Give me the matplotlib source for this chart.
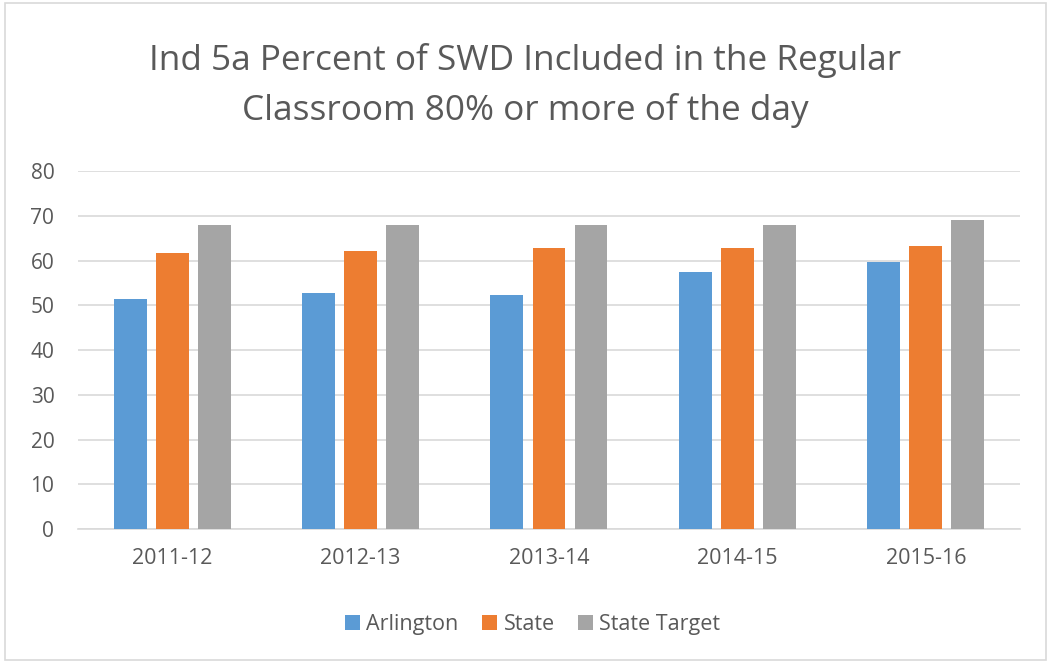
import matplotlib
matplotlib.use("Agg")
import matplotlib.pyplot as plt
import numpy as np
from matplotlib.patches import Rectangle

categories = ["2011-12", "2012-13", "2013-14", "2014-15", "2015-16"]
arlington = [51.3, 52.8, 52.4, 57.5, 59.7]
state = [61.6, 62.2, 62.7, 62.7, 63.2]
state_target = [68, 68, 68, 68, 69]
series_names = ["Arlington", "State", "State Target"]
colors = ["#5B9BD5", "#ED7D31", "#A5A5A5"]
yticks = [0, 10, 20, 30, 40, 50, 60, 70, 80]

plt.rcParams['font.family'] = ['Open Sans', 'DejaVu Sans']

fig = plt.figure(figsize=(10.51, 6.67), dpi=100)
fig.patch.set_facecolor("white")
fig.add_artist(Rectangle((0.005, 0.01), 0.99, 0.985, transform=fig.transFigure,
                         fill=False, edgecolor="#D9D9D9", linewidth=1.2))

ax = fig.add_axes([0.0742, 0.2069, 0.8963, 0.5367])
x = np.arange(len(categories))
w = 0.175
step = 0.223
for i, (vals, name, c) in enumerate(zip([arlington, state, state_target], series_names, colors)):
    ax.bar(x + (i - 1) * step, vals, width=w, color=c, label=name, zorder=3)

ax.set_xlim(-0.5, len(categories) - 0.5)
ax.set_ylim(0, 80)
ax.set_yticks(yticks)
ax.set_yticklabels([str(t) for t in yticks])
ax.set_xticks(x)
ax.set_xticklabels(categories)
ax.grid(axis="y", color="#D9D9D9", linewidth=1.2, zorder=0)
for s in ["top", "right", "left"]:
    ax.spines[s].set_visible(False)
ax.spines["bottom"].set_color("#D9D9D9")
ax.spines["bottom"].set_linewidth(1.2)
ax.tick_params(axis="both", length=0, colors="#595959")
ax.tick_params(axis="x", pad=14, labelsize=15.5)
ax.tick_params(axis="y", pad=17, labelsize=15)

fig.text(0.5, 0.872, "Ind 5a Percent of SWD Included in the Regular\nClassroom 80% or more of the day",
         ha="center", va="center", fontsize=25.3, color="#595959", linespacing=1.55)

fig.legend(loc="center", bbox_to_anchor=(0.507, 0.064), ncol=3, frameon=False,
           fontsize=15.5, handlelength=0.68, handleheight=0.68, handletextpad=0.3,
           columnspacing=1.1, labelcolor="#595959")

fig.savefig("out.png", dpi=100)
